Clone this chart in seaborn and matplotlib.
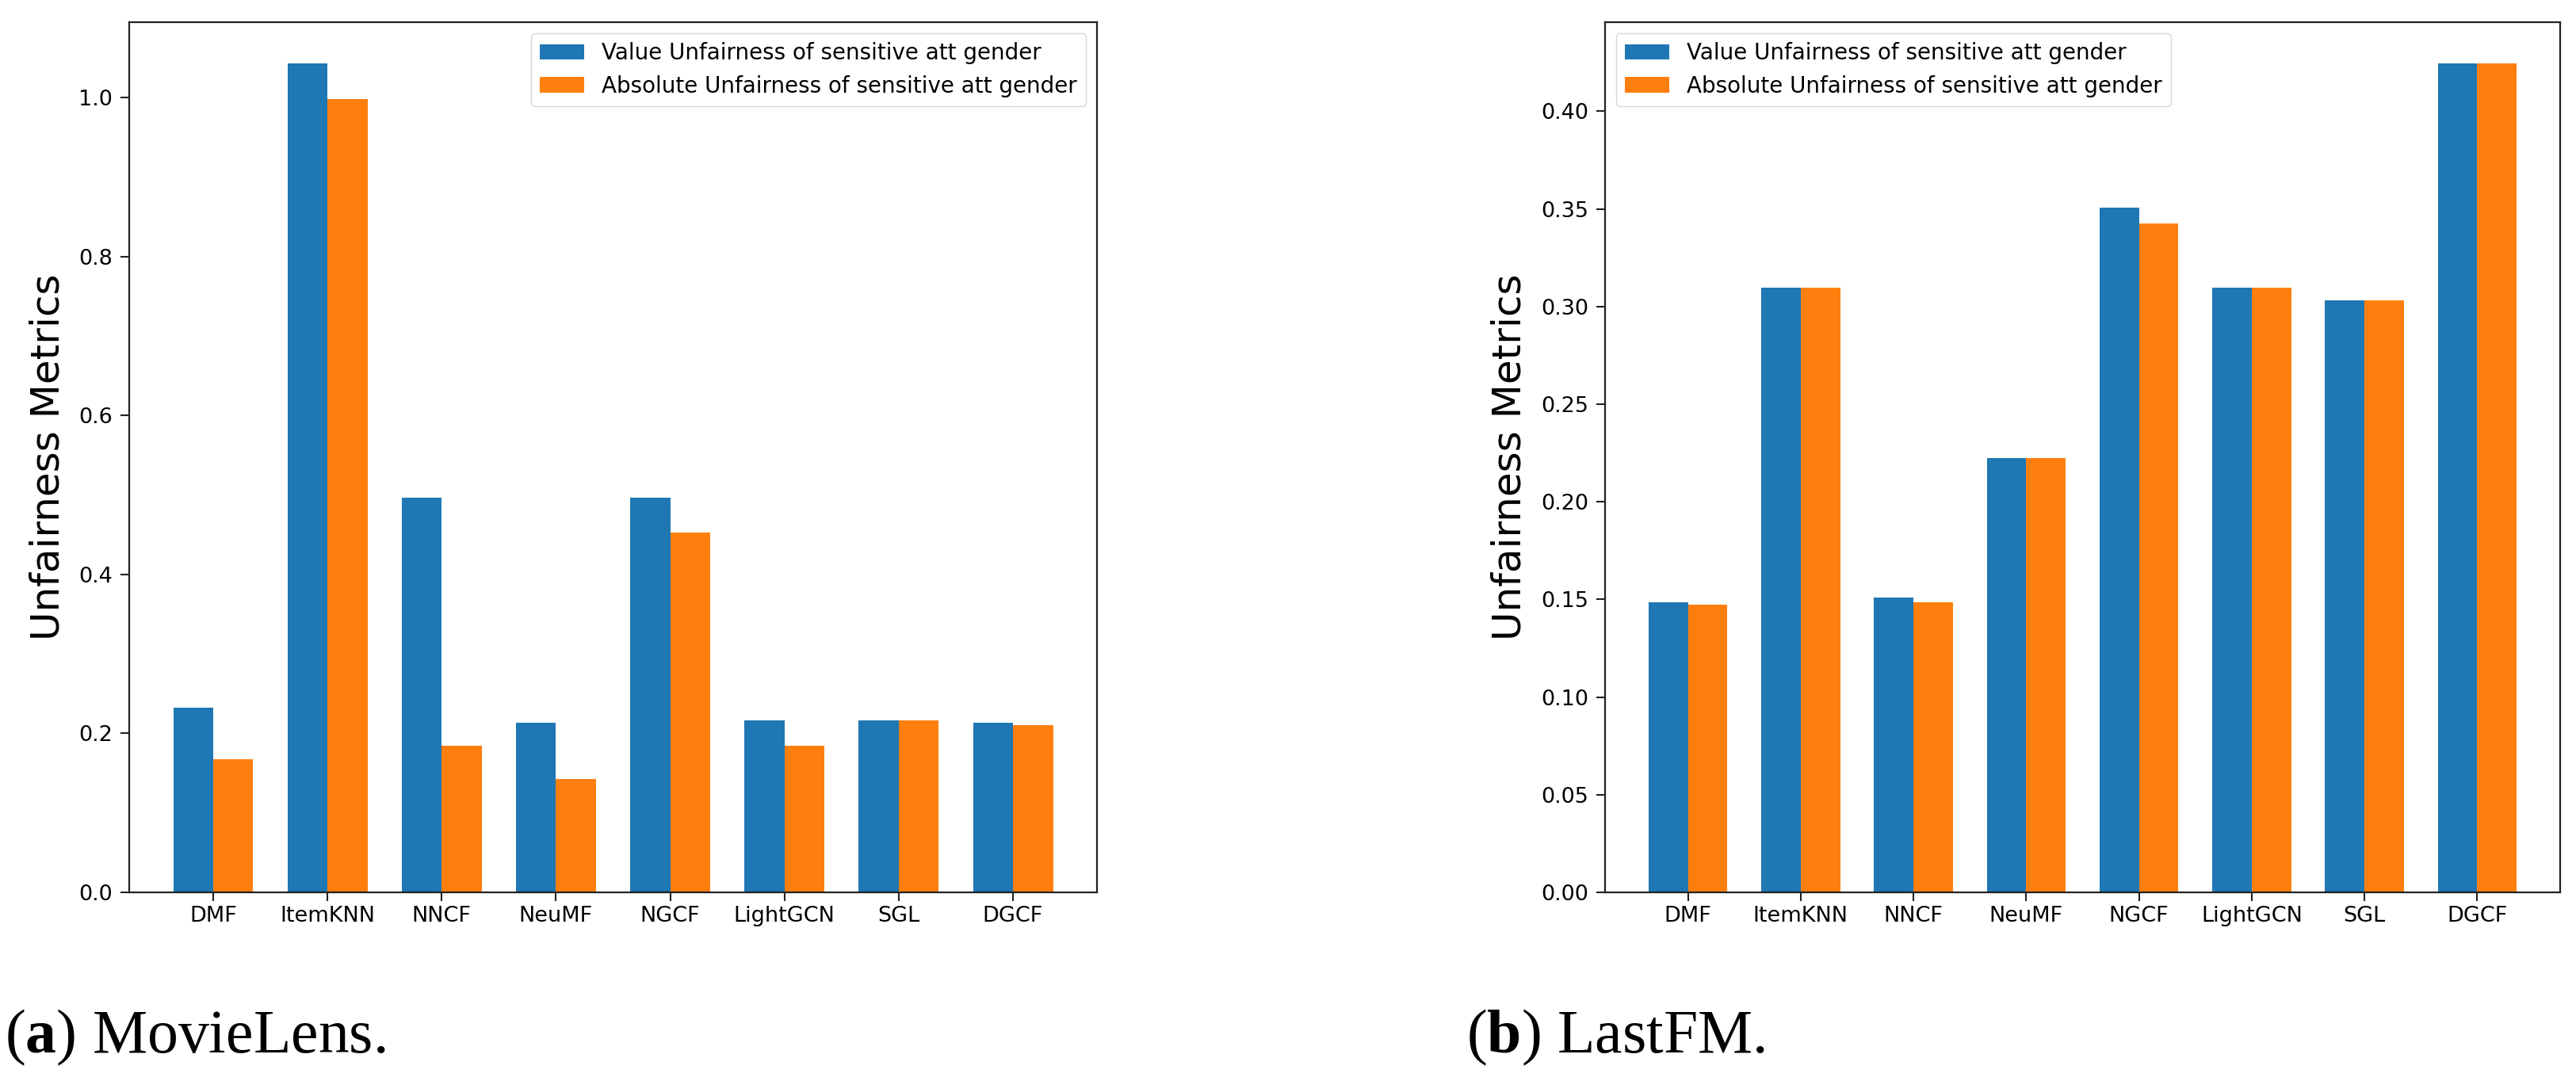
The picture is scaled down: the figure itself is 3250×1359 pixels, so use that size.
import seaborn as sns
import pandas as pd
import numpy as np
import matplotlib.pyplot as plt

models = ["DMF", "ItemKNN", "NNCF", "NeuMF", "NGCF", "LightGCN", "SGL", "DGCF"]
series = ["Value Unfairness of sensitive att gender",
          "Absolute Unfairness of sensitive att gender"]

# MovieLens
ml_value = [0.232, 1.043, 0.497, 0.213, 0.497, 0.216, 0.216, 0.213]
ml_absolute = [0.168, 0.998, 0.185, 0.143, 0.453, 0.185, 0.216, 0.210]

# LastFM
fm_value = [0.1487, 0.3096, 0.1511, 0.2225, 0.3507, 0.3096, 0.3031, 0.4244]
fm_absolute = [0.1475, 0.3096, 0.1487, 0.2225, 0.3427, 0.3096, 0.3031, 0.4244]

plt.rcParams["mathtext.fontset"] = "custom"
plt.rcParams["mathtext.rm"] = "Liberation Serif"
plt.rcParams["mathtext.bf"] = "Liberation Serif:bold"

colors = ["#1f77b4", "#ff7f0e"]


def make_df(v, a):
    return pd.DataFrame({
        "model": models * 2,
        "series": [series[0]] * len(models) + [series[1]] * len(models),
        "score": v + a,
    })


fig = plt.figure(figsize=(32.5, 13.59), dpi=100)
ax1 = fig.add_axes([163 / 3250, 1 - 1126 / 1359, 1221 / 3250, 1098 / 1359])
ax2 = fig.add_axes([2025 / 3250, 1 - 1126 / 1359, 1205 / 3250, 1098 / 1359])

panels = [(ax1, make_df(ml_value, ml_absolute), "upper right"),
          (ax2, make_df(fm_value, fm_absolute), "upper left")]

for ax, df, loc in panels:
    sns.barplot(data=df, x="model", y="score", hue="series", hue_order=series,
                palette=colors, saturation=1, width=0.7, errorbar=None,
                linewidth=0, ax=ax)
    ax.set_xlim(-0.735, len(models) - 1 + 0.735)
    ax.margins(y=0.05)
    ax.autoscale(axis="y")
    ax.set_xlabel("")
    ax.set_ylabel("Unfairness Metrics", fontsize=36, labelpad=11)
    ax.tick_params(axis="both", labelsize=19.5, length=8, width=1.5, color="#222222")
    ax.tick_params(axis="y", pad=7)
    ax.tick_params(axis="x", pad=4)
    for s in ax.spines.values():
        s.set_linewidth(1.6)
        s.set_color("#222222")
    ax.legend(loc=loc, fontsize=20)

fig.text(0.002, 1 - 1328 / 1359, r"($\mathbf{a}$) MovieLens.", family="Liberation Serif",
         fontsize=56, va="baseline", ha="left")
fig.text(1850 / 3250, 1 - 1328 / 1359, r"($\mathbf{b}$) LastFM.", family="Liberation Serif",
         fontsize=56, va="baseline", ha="left")

fig.savefig("out.png", dpi=100)
